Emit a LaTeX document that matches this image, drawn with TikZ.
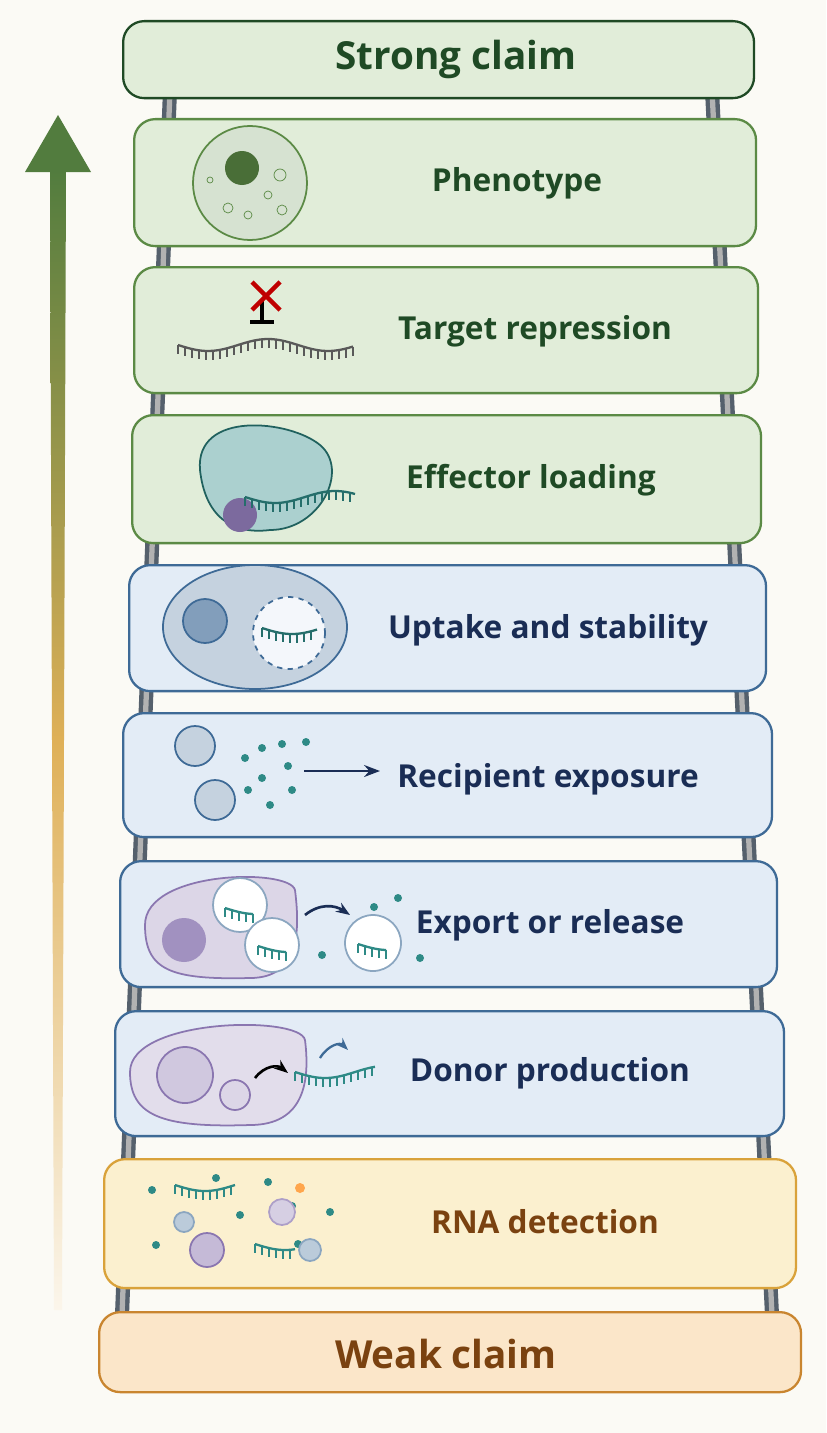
\documentclass[tikz,border=0pt]{standalone}
\usepackage{fontspec}
\setmainfont{Open Sans}
\usepackage{tikz}
\usetikzlibrary{arrows.meta}
\definecolor{bg}{HTML}{FBFAF5}
\definecolor{gfill}{HTML}{E1EDD9}
\definecolor{gline}{HTML}{5B8A45}
\definecolor{gtext}{HTML}{1F4A25}
\definecolor{bfill}{HTML}{E3ECF6}
\definecolor{bline}{HTML}{3E6A96}
\definecolor{btext}{HTML}{1A2D55}
\definecolor{yfill}{HTML}{FBF0CF}
\definecolor{yline}{HTML}{D9A23A}
\definecolor{ofill}{HTML}{FBE6C9}
\definecolor{oline}{HTML}{C9852F}
\definecolor{otext}{HTML}{7A4210}
\definecolor{teal}{HTML}{2E8A86}
\definecolor{purp}{HTML}{8A76B0}
\definecolor{rail}{HTML}{55606C}
\tikzset{
  box/.style={rectangle, rounded corners=12pt, line width=1.3pt, anchor=north west},
  gbox/.style={box, draw=gline, fill=gfill},
  bbox/.style={box, draw=bline, fill=bfill},
  label/.style={font=\bfseries\fontsize{18}{20}\selectfont, anchor=center},
  claim/.style={font=\bfseries\fontsize{22}{24}\selectfont, anchor=center},
  cell/.style={line width=1pt}
}
% RNA strand: x, y, length, colour
\newcommand{\strand}[4]{%
  \draw[#4, line width=1.3pt] plot[domain=0:#3, samples=40] ({#1+\x},{#2+6*sin(\x*3)});
  \foreach \t in {0,7,...,#3} \draw[#4, line width=0.8pt] ({#1+\t},{#2+6*sin(\t*3)}) -- ++(0,9);}
\begin{document}
\begin{tikzpicture}[x=0.02cm, y=-0.02cm]
  \useasboundingbox (0,0) rectangle (826,1433);
  \fill[bg] (0,0) rectangle (826,1433);
  % Rails of the ladder
  \draw[rail, line width=8pt] (170,90) -- (122,1315);
  \draw[rail, line width=8pt] (712,90) -- (772,1315);
  \draw[gray!60, line width=3pt] (170,90) -- (122,1315);
  \draw[gray!60, line width=3pt] (712,90) -- (772,1315);
  % Evidence arrow
  \shade[top color=gline!90!black, bottom color=yline!10, middle color=yline!85] (50,170) -- (66,170) -- (62,1310) -- (54,1310) -- cycle;
  \fill[gline!90!black] (25,172) -- (58,115) -- (91,172) -- cycle;
  % Rungs
  \node (strong) [box, draw=gtext, fill=gfill, minimum width=12.62cm, minimum height=1.54cm] at (122,20) {};
  \node (pheno) [gbox, minimum width=12.44cm, minimum height=2.54cm] at (133,118) {};
  \node (repr) [gbox, minimum width=12.48cm, minimum height=2.52cm] at (133,266) {};
  \node (effec) [gbox, minimum width=12.58cm, minimum height=2.56cm] at (131,414) {};
  \node (uptake) [bbox, minimum width=12.74cm, minimum height=2.52cm] at (128,564) {};
  \node (recip) [bbox, minimum width=12.98cm, minimum height=2.48cm] at (122,712) {};
  \node (export) [bbox, minimum width=13.14cm, minimum height=2.52cm] at (119,860) {};
  \node (donor) [bbox, minimum width=13.38cm, minimum height=2.50cm] at (114,1010) {};
  \node (detect) [box, draw=yline, fill=yfill, minimum width=13.84cm, minimum height=2.58cm] at (103,1158) {};
  \node (weak) [box, draw=oline, fill=ofill, minimum width=14.04cm, minimum height=1.60cm] at (98,1311) {};
  % Texts
  \node[claim, text=gtext] at (456,59) {Strong claim};
  \node[label, text=gtext] at (517,183) {Phenotype};
  \node[label, text=gtext] at (535,331) {Target repression};
  \node[label, text=gtext] at (531,480) {Effector loading};
  \node[label, text=btext] at (548,630) {Uptake and stability};
  \node[label, text=btext] at (548,779) {Recipient exposure};
  \node[label, text=btext] at (550,925) {Export or release};
  \node[label, text=btext] at (550,1073) {Donor production};
  \node[label, text=otext] at (545,1222) {RNA detection};
  \node[claim, text=otext] at (446,1354) {Weak claim};
  % Phenotype icon
  \draw[cell, draw=gline, fill=gline!25] (250,183) circle (57);
  \fill[gline!80!black] (242,168) circle (17);
  \foreach \a/\b/\r in {280/175/6, 268/195/4, 228/208/5, 248/215/4, 282/210/5, 210/180/3}
    \draw[gline] (\a,\b) circle (\r);
  % Target repression icon
  \strand{178}{345}{175}{gray!70!black}
  \draw[black, line width=2pt] (262,300) -- (262,322) (250,322) -- (274,322);
  \draw[red!75!black, line width=2.5pt] (252,282) -- (280,310) (280,282) -- (252,310);
  % Effector loading icon
  \draw[cell, draw=teal!70!black, fill=teal!40] (200,470) .. controls (195,410) and (290,420) .. (320,445) .. controls (350,470) and (320,530) .. (270,530) .. controls (230,535) and (205,515) .. (200,470) -- cycle;
  \fill[purp!90!black] (240,515) circle (17);
  \strand{245}{497}{110}{teal!80!black}
  % Uptake icon
  \draw[cell, draw=bline, fill=bline!30] (255,627) ellipse (92 and 62);
  \draw[cell, draw=bline, fill=bline!65] (205,621) circle (22);
  \draw[cell, draw=bline, dashed, fill=white!60!bfill] (289,633) circle (36);
  \strand{262}{628}{55}{teal!80!black}
  % Recipient exposure icon
  \draw[cell, draw=bline, fill=bline!30] (195,746) circle (20);
  \draw[cell, draw=bline, fill=bline!30] (215,800) circle (20);
  \foreach \p in {(245,758),(262,748),(282,744),(306,742),(262,778),(288,766),(248,790),(270,805),(292,790)}
    \fill[teal] \p circle (4);
  \draw[-{Stealth[length=9pt]}, btext, line width=1.6pt] (304,771) -- (380,771);
  % Export or release icon
  \draw[cell, draw=purp, fill=purp!30] (145,925) .. controls (145,870) and (290,868) .. (295,890) .. controls (300,930) and (300,978) .. (250,978) .. controls (170,980) and (145,970) .. (145,925) -- cycle;
  \fill[purp!80] (184,940) circle (22);
  \draw[cell, draw=bline!60, fill=white] (240,905) circle (27);
  \draw[cell, draw=bline!60, fill=white] (272,945) circle (27);
  \draw[cell, draw=bline!60, fill=white] (373,943) circle (28);
  \strand{225}{908}{28}{teal}
  \strand{258}{946}{28}{teal}
  \strand{358}{944}{28}{teal}
  \draw[-{Stealth[length=8pt]}, btext, line width=1.5pt] (305,915) .. controls (320,903) and (335,905) .. (350,915);
  \foreach \p in {(374,907),(398,898),(322,955),(420,958)} \fill[teal] \p circle (4);
  % Donor production icon
  \draw[cell, draw=purp, fill=purp!25] (130,1072) .. controls (130,1018) and (300,1015) .. (305,1040) .. controls (310,1080) and (305,1125) .. (250,1125) .. controls (160,1128) and (130,1115) .. (130,1072) -- cycle;
  \draw[cell, draw=purp, fill=purp!40] (185,1075) circle (28);
  \draw[cell, draw=purp, fill=purp!30] (235,1095) circle (15);
  \draw[-{Stealth[length=8pt]}, black, line width=1.5pt] (255,1078) .. controls (265,1065) and (278,1065) .. (288,1073);
  \strand{295}{1072}{80}{teal}
  \draw[-{Stealth[length=7pt]}, bline, line width=1.3pt] (320,1058) .. controls (328,1045) and (340,1042) .. (348,1050);
  % RNA detection icon
  \strand{175}{1185}{60}{teal}
  \strand{255}{1244}{40}{teal}
  \foreach \p in {(152,1190),(156,1245),(216,1178),(240,1215),(268,1182),(298,1244),(330,1212),(292,1206),(190,1222)}
    \fill[teal] \p circle (4);
  \fill[orange!70] (300,1188) circle (5);
  \draw[cell, draw=bline!60, fill=bline!35] (184,1222) circle (10);
  \draw[cell, draw=bline!60, fill=bline!35] (310,1250) circle (11);
  \draw[cell, draw=purp, fill=purp!50] (207,1250) circle (17);
  \draw[cell, draw=purp!70, fill=purp!35] (282,1212) circle (13);
\end{tikzpicture}
\end{document}
